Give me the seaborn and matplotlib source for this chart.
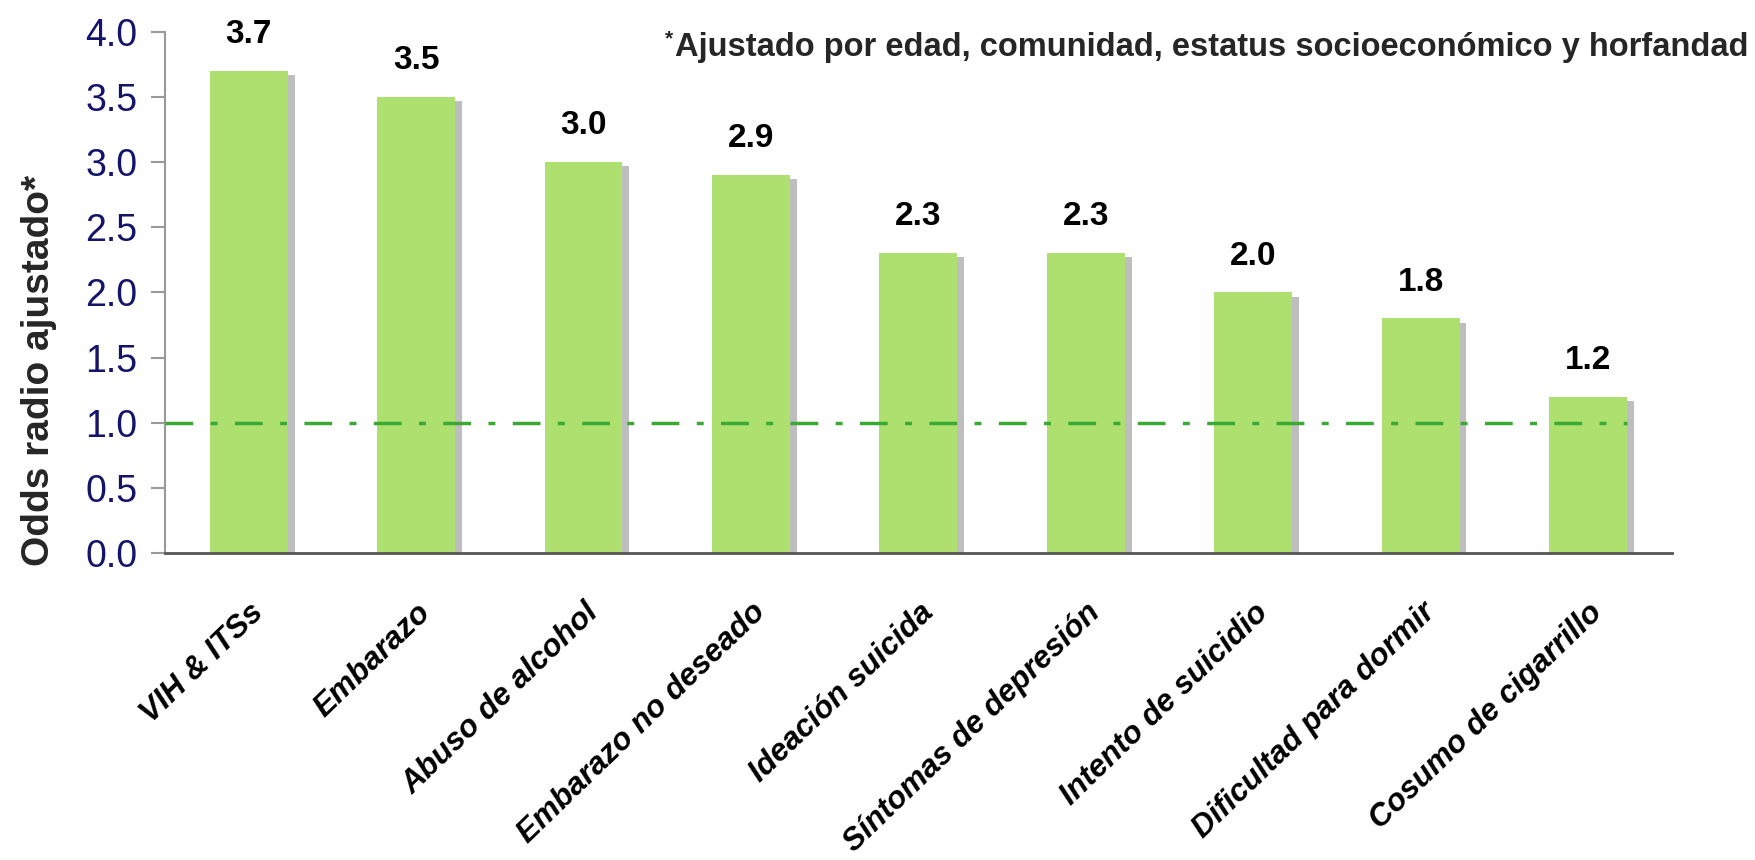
import matplotlib
matplotlib.use("Agg")
import matplotlib.pyplot as plt
import matplotlib.patheffects as pe
import matplotlib.transforms as mtrans
from matplotlib import font_manager
import seaborn as sns
import pandas as pd

categories = ["VIH & ITSs", "Embarazo", "Abuso de alcohol", "Embarazo no deseado",
              "Ideación suicida", "Síntomas de depresión", "Intento de suicidio",
              "Dificultad para dormir", "Cosumo de cigarrillo"]
values = [3.7, 3.5, 3.0, 2.9, 2.3, 2.3, 2.0, 1.8, 1.2]
value_labels = ["3.7", "3.5", "3.0", "2.9", "2.3", "2.3", "2.0", "1.8", "1.2"]
yticks = [0.0, 0.5, 1.0, 1.5, 2.0, 2.5, 3.0, 3.5, 4.0]
ref_value = 1.0
ylabel = "Odds radio ajustado*"
footnote = "Ajustado por edad, comunidad, estatus socioeconómico y horfandad"

sns.set_style("white")
names = {f.name for f in font_manager.fontManager.ttflist}
base = "Liberation Sans" if "Liberation Sans" in names else "DejaVu Sans"
plt.rcParams["font.family"] = [base, "DejaVu Sans"]

df = pd.DataFrame({"cat": categories, "val": values})
bar_w = 0.465

fig = plt.figure(figsize=(17.56, 8.6), dpi=100)
ax = fig.add_axes([0.094, 0.357, 0.858, 0.606])

sns.barplot(data=df, x="cat", y="val", color="#ade06e", saturation=1, width=bar_w, ax=ax,
            order=categories)
for p in ax.patches:
    p.set_path_effects([pe.SimplePatchShadow(offset=(5, -3), shadow_rgbFace="#8a8a8a", alpha=0.55),
                        pe.Normal()])
    p.set_edgecolor("none")

n = len(categories)
ax.axhline(ref_value, xmin=0, xmax=(n - 1 + bar_w / 2 + 0.5) / n,
           color="#3aaa35", lw=2.5, dashes=(8, 5, 2, 5), zorder=3)

for i, (v, lab) in enumerate(zip(values, value_labels)):
    ax.text(i, v + 0.16, lab, ha="center", va="bottom", fontsize=24, fontweight="bold",
            color="black", clip_on=False)

ax.set_xlim(-0.5, n - 0.5)
ax.set_ylim(0, 4.0)
ax.set_yticks(yticks)
ax.set_yticklabels([f"{t:.1f}" for t in yticks], fontsize=27, color="#14146b")
ax.set_xticks(range(n))
ax.set_xticklabels(categories, rotation=44, ha="right", rotation_mode="anchor",
                   fontsize=22.5, fontweight="bold", fontstyle="italic", color="black")
shift = mtrans.ScaledTranslation(-10 / 100, 0, fig.dpi_scale_trans)
for lab in ax.get_xticklabels():
    lab.set_transform(lab.get_transform() + shift)
ax.tick_params(axis="x", length=0, pad=32)
ax.tick_params(axis="y", length=10, width=1.5, color="#999999", pad=10, direction="out", left=True)
ax.set_xlabel("")
ax.set_ylabel(ylabel, fontsize=28, fontweight="bold")
ax.yaxis.set_label_coords(-0.072, 0.35)

for s in ["top", "right"]:
    ax.spines[s].set_visible(False)
ax.spines["left"].set_color("#999999")
ax.spines["left"].set_linewidth(1.5)
ax.spines["bottom"].set_color("#555555")
ax.spines["bottom"].set_linewidth(2)

ft = fig.text(0.996, 0.945, footnote, ha="right", va="center", fontsize=23.5, fontweight="bold")
fig.canvas.draw()
bb = ft.get_window_extent()
fig.text((bb.x0 - 2) / fig.bbox.width, (bb.y1 + 2) / fig.bbox.height, "*", ha="right", va="top",
         fontsize=15, fontweight="bold")

fig.savefig("out.png", dpi=100)
